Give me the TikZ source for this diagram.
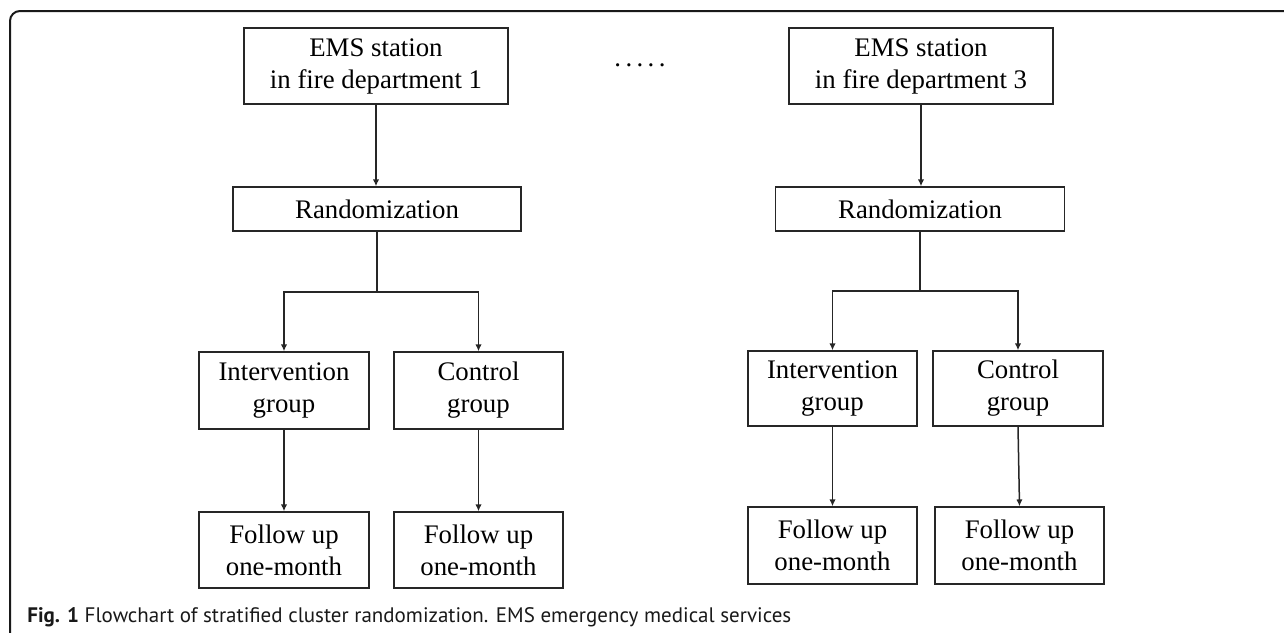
\documentclass[tikz,border=0pt]{standalone}
\usepackage{fontspec}
\setmainfont{Liberation Serif}
\newfontfamily\capfont{PT Sans}
\usetikzlibrary{arrows.meta}
\begin{document}
\begin{tikzpicture}[x=0.5pt,y=-0.5pt,
  box/.style={draw=black!85,line width=0.75pt,inner sep=0pt,align=center,
    font=\fontsize{13.4}{16}\selectfont},
  conn/.style={draw=black!85,line width=0.75pt},
  arr/.style={conn,-{Latex[length=3.4pt,width=3.2pt]}}]
\useasboundingbox (0,0) rectangle (1284,632);
% outer frame (top and left edges)
\draw[line width=1pt,black!90] (10,640) -- (10,21) arc[start angle=180,end angle=90,radius=5pt] -- (1290,11);
% left tree
\node[box,minimum width=132pt,minimum height=38pt] (ems1) at (376,66) {EMS station\\in fire department 1};
\node[box,minimum width=144pt,minimum height=22pt] (rand1) at (377,209) {Randomization};
\node[box,minimum width=85pt,minimum height=38.5pt] (int1) at (284,390.5) {Intervention\\group};
\node[box,minimum width=84.5pt,minimum height=38.5pt] (ctl1) at (478.5,390.5) {Control\\group};
\node[box,minimum width=85pt,minimum height=38pt] (fol1) at (284,550) {Follow up\\one-month};
\node[box,minimum width=84.5pt,minimum height=38pt] (fol2) at (478.5,550) {Follow up\\one-month};
\coordinate (b1) at (377,292);
\draw[arr] (ems1.south) -- (ems1.south |- rand1.north);
\draw[conn] (rand1.south) -- (b1);
\draw[arr] (b1) -| (int1.north);
\draw[arr] (b1) -| (ctl1.north);
\draw[arr] (int1.south) -- (fol1.north);
\draw[arr] (ctl1.south) -- (fol2.north);
% dots
\node[font=\fontsize{13.4}{16}\selectfont,inner sep=0pt,anchor=base] (dots) at (640,66) {.\kern2.2pt.\kern2.2pt.\kern2.2pt.\kern2.2pt.};
% right tree
\node[box,minimum width=132pt,minimum height=38pt] (ems3) at (921,66) {EMS station\\in fire department 3};
\node[box,minimum width=144.5pt,minimum height=22pt] (rand3) at (920,209) {Randomization};
\node[box,minimum width=84.5pt,minimum height=37.5pt] (int3) at (832.5,388.5) {Intervention\\group};
\node[box,minimum width=85pt,minimum height=37.5pt] (ctl3) at (1018,388.5) {Control\\group};
\node[box,minimum width=84.5pt,minimum height=38.5pt] (fol3) at (832.5,545.5) {Follow up\\one-month};
\node[box,minimum width=84.5pt,minimum height=38.5pt] (fol4) at (1019.5,545.5) {Follow up\\one-month};
\coordinate (b3) at (920,291);
\draw[arr] (ems3.south) -- (ems3.south |- rand3.north);
\draw[conn] (rand3.south) -- (b3);
\draw[arr] (b3) -| (int3.north);
\draw[arr] (b3) -| (ctl3.north);
\draw[arr] (int3.south) -- (fol3.north);
\draw[arr] (ctl3.south) -- (fol4.north);
% caption
\node[anchor=base west,inner sep=0pt,font=\capfont\fontsize{10.5}{12}\selectfont,text=black!90] (cap) at (27,622)
  {\textbf{Fig. 1} Flowchart of stratified cluster randomization. EMS emergency medical services};
\end{tikzpicture}
\end{document}
